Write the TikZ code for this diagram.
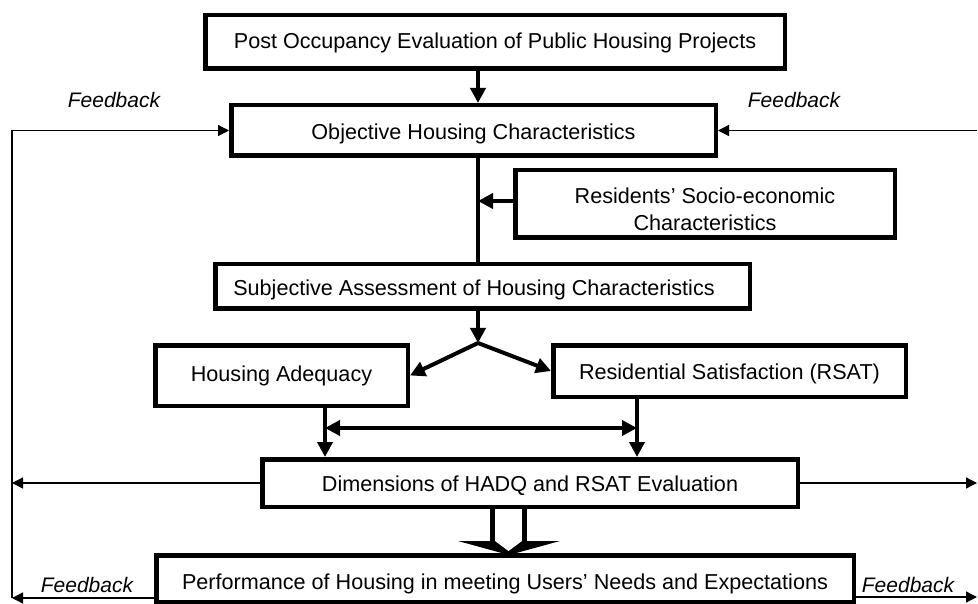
\documentclass[tikz,border=0pt]{standalone}
\usepackage{fontspec}
\setmainfont{Liberation Sans}
\usetikzlibrary{arrows.meta}
\newcommand{\lowr}[2]{\raisebox{-#1pt}[\height][\depth]{#2}}
\begin{document}
\begin{tikzpicture}[x=1pt,y=-1pt,
  box/.style={draw, line width=4.5pt, inner sep=0pt, align=center, font=\fontsize{21.6}{25}\selectfont},
  thickarr/.style={line width=4pt, -{Triangle[length=15pt,width=15pt]}},
  dblarr/.style={line width=4pt, {Triangle[length=15pt,width=15pt]}-{Triangle[length=15pt,width=15pt]}},
  thickline/.style={line width=4pt},
  fb/.style={line width=1.3pt, -{Triangle[length=11pt,width=11pt]}},
  fbline/.style={line width=1.3pt},
  fblabel/.style={font=\fontsize{21}{25}\selectfont\itshape, inner sep=0pt}]
\useasboundingbox (0,0) rectangle (978,604);

% boxes
\node[box, minimum width=579.5pt, minimum height=53.5pt] (b1) at (495,42) {\lowr{1}{Post Occupancy Evaluation of Public Housing Projects}};
\node[box, minimum width=484.5pt, minimum height=50.5pt] (b2) at (473.5,130.5) {\lowr{3}{Objective Housing Characteristics}};
\node[box, minimum width=379.5pt, minimum height=67.5pt] (res) at (705,204) {\lowr{8}{\begin{tabular}{@{}c@{}}Residents’ Socio-economic\\[2pt]Characteristics\end{tabular}}};
\node[box, minimum width=534.5pt, minimum height=44.5pt] (b3) at (482.5,286.5) {\lowr{3}{Subjective Assessment of Housing Characteristics\hspace*{17pt}}};
\node[box, minimum width=252.5pt, minimum height=60.5pt] (ha) at (281.5,375.5) {Housing Adequacy};
\node[box, minimum width=352.5pt, minimum height=51.5pt] (rs) at (729.5,371) {\lowr{3}{Residential Satisfaction (RSAT)}};
\node[box, minimum width=535.5pt, minimum height=47.5pt] (dim) at (530,483) {\lowr{2.5}{Dimensions of HADQ and RSAT Evaluation}};
\node[box, minimum width=697.5pt, minimum height=46.5pt] (perf) at (505,578.5) {\lowr{5}{Performance of Housing in meeting Users’ Needs and Expectations}};

% helper coordinates
\coordinate (spine) at (478,0);
\coordinate (split) at (478,343);
\coordinate (hx) at (325,0);
\coordinate (rx) at (637,0);
\coordinate (da1) at (325,428);
\coordinate (da2) at (637,428);
\coordinate (leftx) at (12,0);
\coordinate (rightx) at (977,0);
\coordinate (lb) at (12,598);
\coordinate (rb) at (977,597);

% main flow
\draw[thickarr] (b1.south -| spine) -- (b2.north -| spine);
\draw[thickline] (b2.south -| spine) -- (b3.north -| spine);
\draw[thickarr] ([yshift=3pt]res.west) -- ([yshift=3pt]res.west -| spine);
\draw[thickarr] (b3.south -| spine) -- (split);
\draw[thickarr] (split) -- (ha.east);
\draw[thickarr] (split) -- (rs.west);
\draw[thickarr] (ha.south -| hx) -- (dim.north -| hx);
\draw[thickarr] (rs.south -| rx) -- (dim.north -| rx);
\draw[dblarr] (da1) -- (da2);

% hollow block arrow
\coordinate (ls) at (492.5,0);
\coordinate (rsh) at (524.5,0);
\draw[line width=5pt] (dim.south -| ls) -- (492.5,541);
\draw[line width=5.5pt] (dim.south -| rsh) -- (524.5,541);
\fill (458,541) -- (560,541) -- (509,555) -- cycle;
\fill[white] (495,541) -- (522,541) -- (508.5,551) -- cycle;

% feedback loops
\draw[fbline] (b2.west -| leftx) -- (lb);
\draw[fb] (b2.west -| leftx) -- (b2.west);
\draw[fb] (b2.east -| rightx) -- (b2.east);
\draw[fb] (dim.west) -- (dim.west -| leftx);
\draw[fb] (dim.east) -- (dim.east -| rightx);
\draw[fb] (lb -| perf.west) -- (lb);
\draw[fb] (rb -| perf.east) -- (rb);

% labels
\node[fblabel] (fb1) at (114,100) {Feedback};
\node[fblabel] (fb2) at (794,100) {Feedback};
\node[fblabel] (fb3) at (87,585) {Feedback};
\node[fblabel] (fb4) at (908,585) {Feedback};
\end{tikzpicture}
\end{document}
